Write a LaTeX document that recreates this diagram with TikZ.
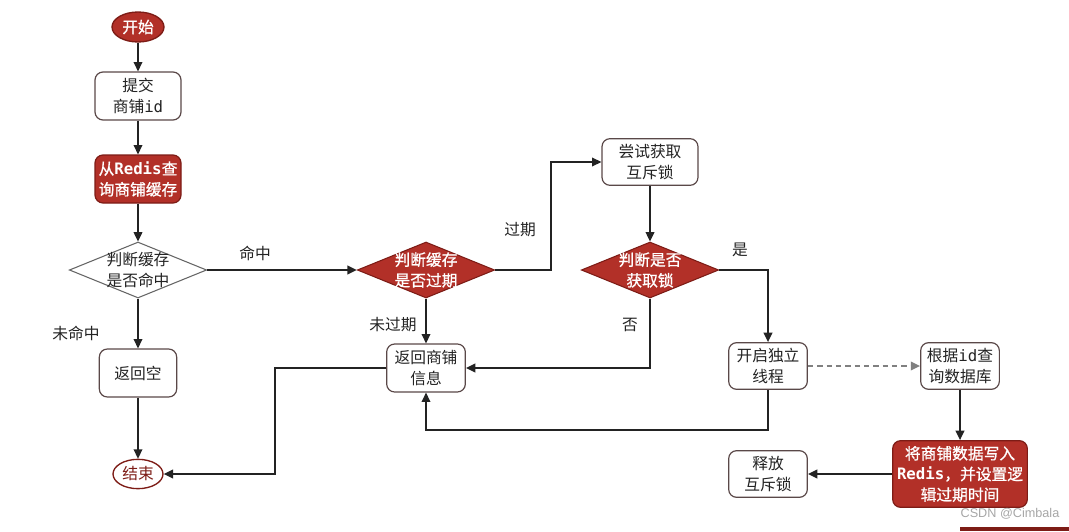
\documentclass[tikz,border=0pt]{standalone}
\usepackage{fontspec}
\setmainfont{Noto Sans CJK SC}[AutoFakeBold=0.9]
\newfontfamily\monof{DejaVu Sans Mono}
\newfontfamily\wmf{Liberation Sans}
\usetikzlibrary{shapes.geometric,arrows.meta}
\definecolor{rd}{RGB}{178,48,40}
\definecolor{rdb}{RGB}{125,28,22}
\definecolor{bx}{RGB}{90,72,72}
\definecolor{ln}{RGB}{35,35,35}
\begin{document}
\begin{tikzpicture}[x=0.75pt,y=-0.75pt,
  font=\fontsize{11.8}{15.5}\selectfont,
  box/.style={draw=bx, line width=0.9pt, rounded corners=6pt, fill=white, text=ln, align=center, inner sep=0pt},
  rbox/.style={box, fill=rd, draw=rdb, text=white, font=\fontsize{11.8}{15.5}\selectfont\bfseries},
  dia/.style={diamond, draw=gray!80!black, fill=white, minimum width=103pt, minimum height=42pt, inner sep=0pt, line width=0.8pt},
  rdia/.style={dia, fill=rd, draw=rdb},
  term/.style={ellipse, line width=1pt, inner sep=0pt},
  ar/.style={draw=ln, line width=1.1pt, -{Triangle[length=7pt,width=6.5pt]}},
  lab/.style={text=ln},
  dtxt/.style={align=center, inner sep=0pt}]
\path[use as bounding box] (0,0) rectangle (1069,531);

% nodes
\node[term, fill=rd, draw=rdb, text=white, font=\fontsize{11.8}{15.5}\selectfont\bfseries, minimum width=39pt, minimum height=22.5pt] (start) at (138,27) {开始};
\node[box, minimum width=64.5pt, minimum height=36pt] (submit) at (138,96) {提交\\商铺{\monof id}};
\node[rbox, minimum width=64.5pt, minimum height=36pt] (redis) at (138,179) {从{\monof Redis}查\\询商铺缓存};
\node[dia] (d1) at (138,270) {};
\node[dtxt, text=ln] at (d1) {判断缓存\\是否命中};
\node[rdia] (d2) at (426,270) {};
\node[dtxt, text=white, font=\fontsize{11.8}{15.5}\selectfont\bfseries] at (d2) {判断缓存\\是否过期};
\node[box, minimum width=72pt, minimum height=35pt] (try) at (650,162) {尝试获取\\互斥锁};
\node[rdia] (d3) at (650,270) {};
\node[dtxt, text=white, font=\fontsize{11.8}{15.5}\selectfont\bfseries] at (d3) {判断是否\\获取锁};
\node[box, minimum width=58pt, minimum height=36pt] (empty) at (138,373) {返回空};
\node[box, minimum width=59pt, minimum height=36pt] (ret) at (426,368) {返回商铺\\信息};
\node[box, minimum width=59pt, minimum height=35pt] (thread) at (768,366) {开启独立\\线程};
\node[box, minimum width=59pt, minimum height=35pt] (query) at (960,366) {根据{\monof id}查\\询数据库};
\node[rbox, minimum width=101pt, minimum height=50pt] (write) at (960,474) {将商铺数据写入\\{\monof Redis}，并设置逻\\辑过期时间};
\node[box, minimum width=59pt, minimum height=35pt] (release) at (768,474) {释放\\互斥锁};
\node[term, fill=white, draw=rdb, text=rdb, minimum width=37.5pt, minimum height=22pt] (end) at (138,474) {结束};

% labels
\node[lab] (l1) at (255,253) {命中};
\node[lab] (l2) at (520,230) {过期};
\node[lab] (l3) at (740,250) {是};
\node[lab] (l4) at (630,325) {否};
\node[lab] (l5) at (393,325) {未过期};
\node[lab] (l6) at (76,333) {未命中};

% connectors
\draw[ar] (start) -- (submit);
\draw[ar] (submit) -- (redis);
\draw[ar] (redis) -- (d1);
\draw[ar] (d1) -- (d2);
\draw[ar] (d1) -- (empty);
\draw[ar] (empty) -- (end);
\draw[ar] (d2.east) -- ++(56,0) |- (try.west);
\draw[ar] (d2) -- (ret);
\draw[ar] (try) -- (d3);
\draw[ar] (d3.east) -| (thread.north);
\draw[ar] (d3.south) |- (ret.east);
\draw[ar] (thread.south) -- ++(0,40) -| (ret.south);
\draw[ar, draw=gray, dash pattern=on 4pt off 3pt] (thread) -- (query);
\draw[ar] (query) -- (write);
\draw[ar] (write) -- (release);
\draw[ar] (ret.west) -- ++(-111,0) |- (end.east);

% watermark
\node[text=gray!70, font=\wmf\fontsize{9.5}{11}\selectfont] (wm) at (1010,514) {CSDN @Cimbala};
\fill[rdb] (960,527) rectangle (1069,531);
\end{tikzpicture}
\end{document}
